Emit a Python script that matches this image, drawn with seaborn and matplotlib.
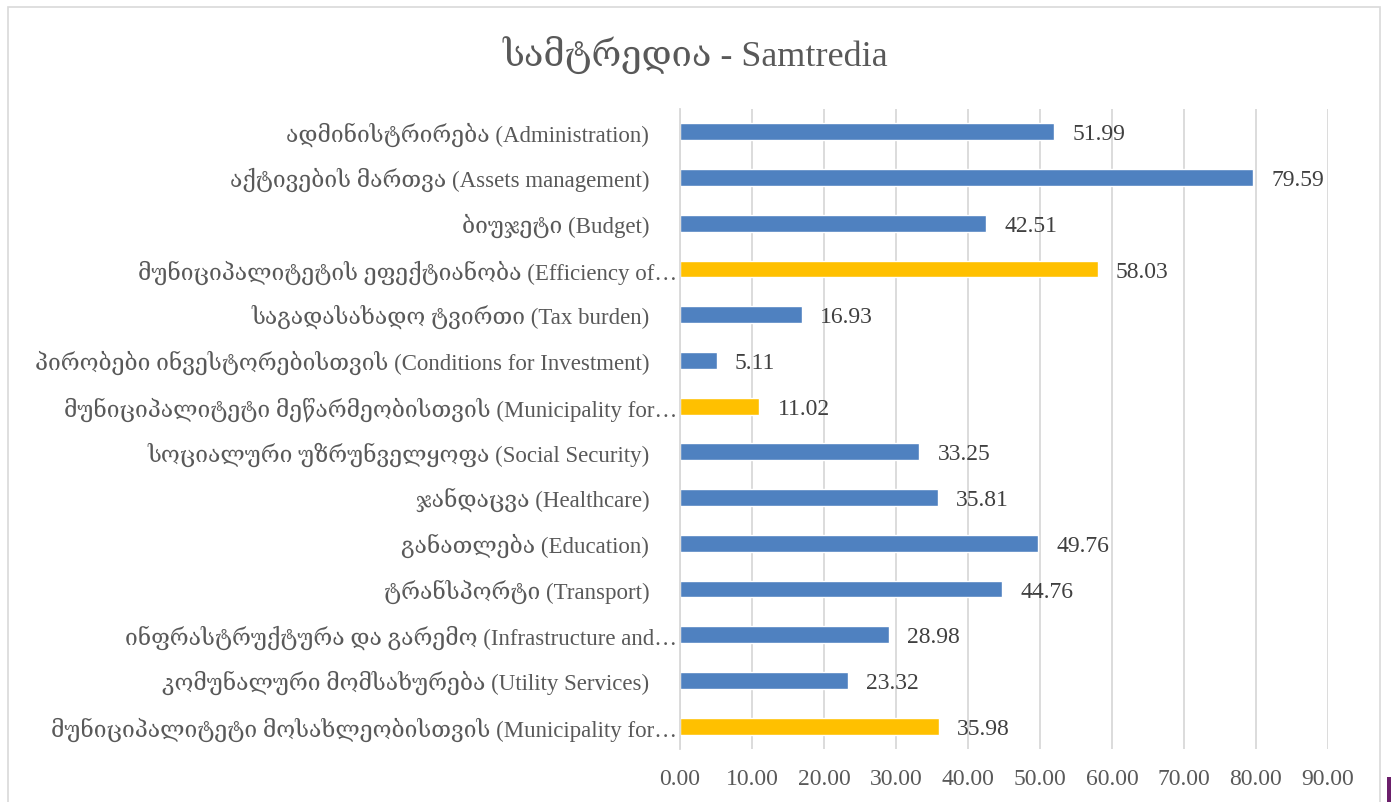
import matplotlib
matplotlib.use("Agg")
import matplotlib.pyplot as plt
import matplotlib.transforms as mtransforms
import seaborn as sns
import pandas as pd
from matplotlib.patches import Rectangle

categories = [
    "ადმინისტრირება (Administration)",
    "აქტივების მართვა (Assets management)",
    "ბიუჯეტი (Budget)",
    "მუნიციპალიტეტის ეფექტიანობა (Efficiency of…",
    "საგადასახადო ტვირთი (Tax burden)",
    "პირობები ინვესტორებისთვის (Conditions for Investment)",
    "მუნიციპალიტეტი მეწარმეობისთვის (Municipality for…",
    "სოციალური უზრუნველყოფა (Social Security)",
    "ჯანდაცვა (Healthcare)",
    "განათლება (Education)",
    "ტრანსპორტი (Transport)",
    "ინფრასტრუქტურა და გარემო (Infrastructure and…",
    "კომუნალური მომსახურება (Utility Services)",
    "მუნიციპალიტეტი მოსახლეობისთვის (Municipality for…",
]
values = [51.99, 79.59, 42.51, 58.03, 16.93, 5.11, 11.02,
          33.25, 35.81, 49.76, 44.76, 28.98, 23.32, 35.98]
groups = ["detail", "detail", "detail", "summary", "detail", "detail", "summary",
          "detail", "detail", "detail", "detail", "detail", "detail", "summary"]
x_ticks = [0, 10, 20, 30, 40, 50, 60, 70, 80, 90]
title = "სამტრედია - Samtredia"

palette = {"detail": "#4F81C0", "summary": "#FFC000"}
text_color = "#595959"
fonts = ["Liberation Serif", "DejaVu Serif", "DejaVu Sans"]

sns.set_theme(style="white")
plt.rcParams["font.family"] = fonts

df = pd.DataFrame({"category": categories, "value": values, "group": groups})

fig = plt.figure(figsize=(13.91, 8.03), dpi=100)
ax = fig.add_axes([0.4889, 0.066, 0.4658, 0.797])

sns.barplot(data=df, y="category", x="value", hue="group", palette=palette,
            order=categories, dodge=False, width=0.37, legend=False, ax=ax,
            saturation=1)

ax.set_xlim(0, 90)
ax.set_ylim(len(categories) - 0.5, -0.5)
ax.set_xticks(x_ticks)
ax.set_xticklabels([f"{t:.2f}" for t in x_ticks], fontsize=17, color=text_color)
ax.tick_params(axis="x", length=0, pad=14)
ax.tick_params(axis="y", length=0, pad=2)
for lbl in ax.get_yticklabels():
    lbl.set_fontsize(16.5)
    lbl.set_color(text_color)
    # full-length labels sit a little further from the axis than clipped ones
    if not lbl.get_text().endswith("…"):
        shift = mtransforms.ScaledTranslation(-28 / 100, 1 / 100, fig.dpi_scale_trans)
        lbl.set_transform(lbl.get_transform() + shift)
ax.set_xlabel("")
ax.set_ylabel("")
ax.grid(axis="x", color="#D9D9D9", linewidth=1.3)
ax.set_axisbelow(True)
for side in ["top", "right", "bottom"]:
    ax.spines[side].set_visible(False)
ax.spines["left"].set_color("#D9D9D9")
ax.spines["left"].set_linewidth(1.3)

for i, v in enumerate(values):
    ax.annotate(f"{v:.2f}", xy=(v, i), xytext=(13, -1.5), textcoords="offset points",
                ha="left", va="center", fontsize=17, color="#404040")

fig.text(0.5, 0.932, title, ha="center", va="center", fontsize=26, color=text_color)

# chart frame
fig.patches.append(Rectangle((8 / 1391, -0.01), 1372 / 1391, 1 - 8 / 803 + 0.01,
                             transform=fig.transFigure, fill=False,
                             edgecolor="#D9D9D9", linewidth=1.2))
# edge of the neighbouring element at the lower right
fig.patches.append(Rectangle((1387 / 1391, 0), 4 / 1391, 25 / 803,
                             transform=fig.transFigure, facecolor="#6B1F6B",
                             edgecolor="none"))

fig.savefig("out.png", dpi=100)
